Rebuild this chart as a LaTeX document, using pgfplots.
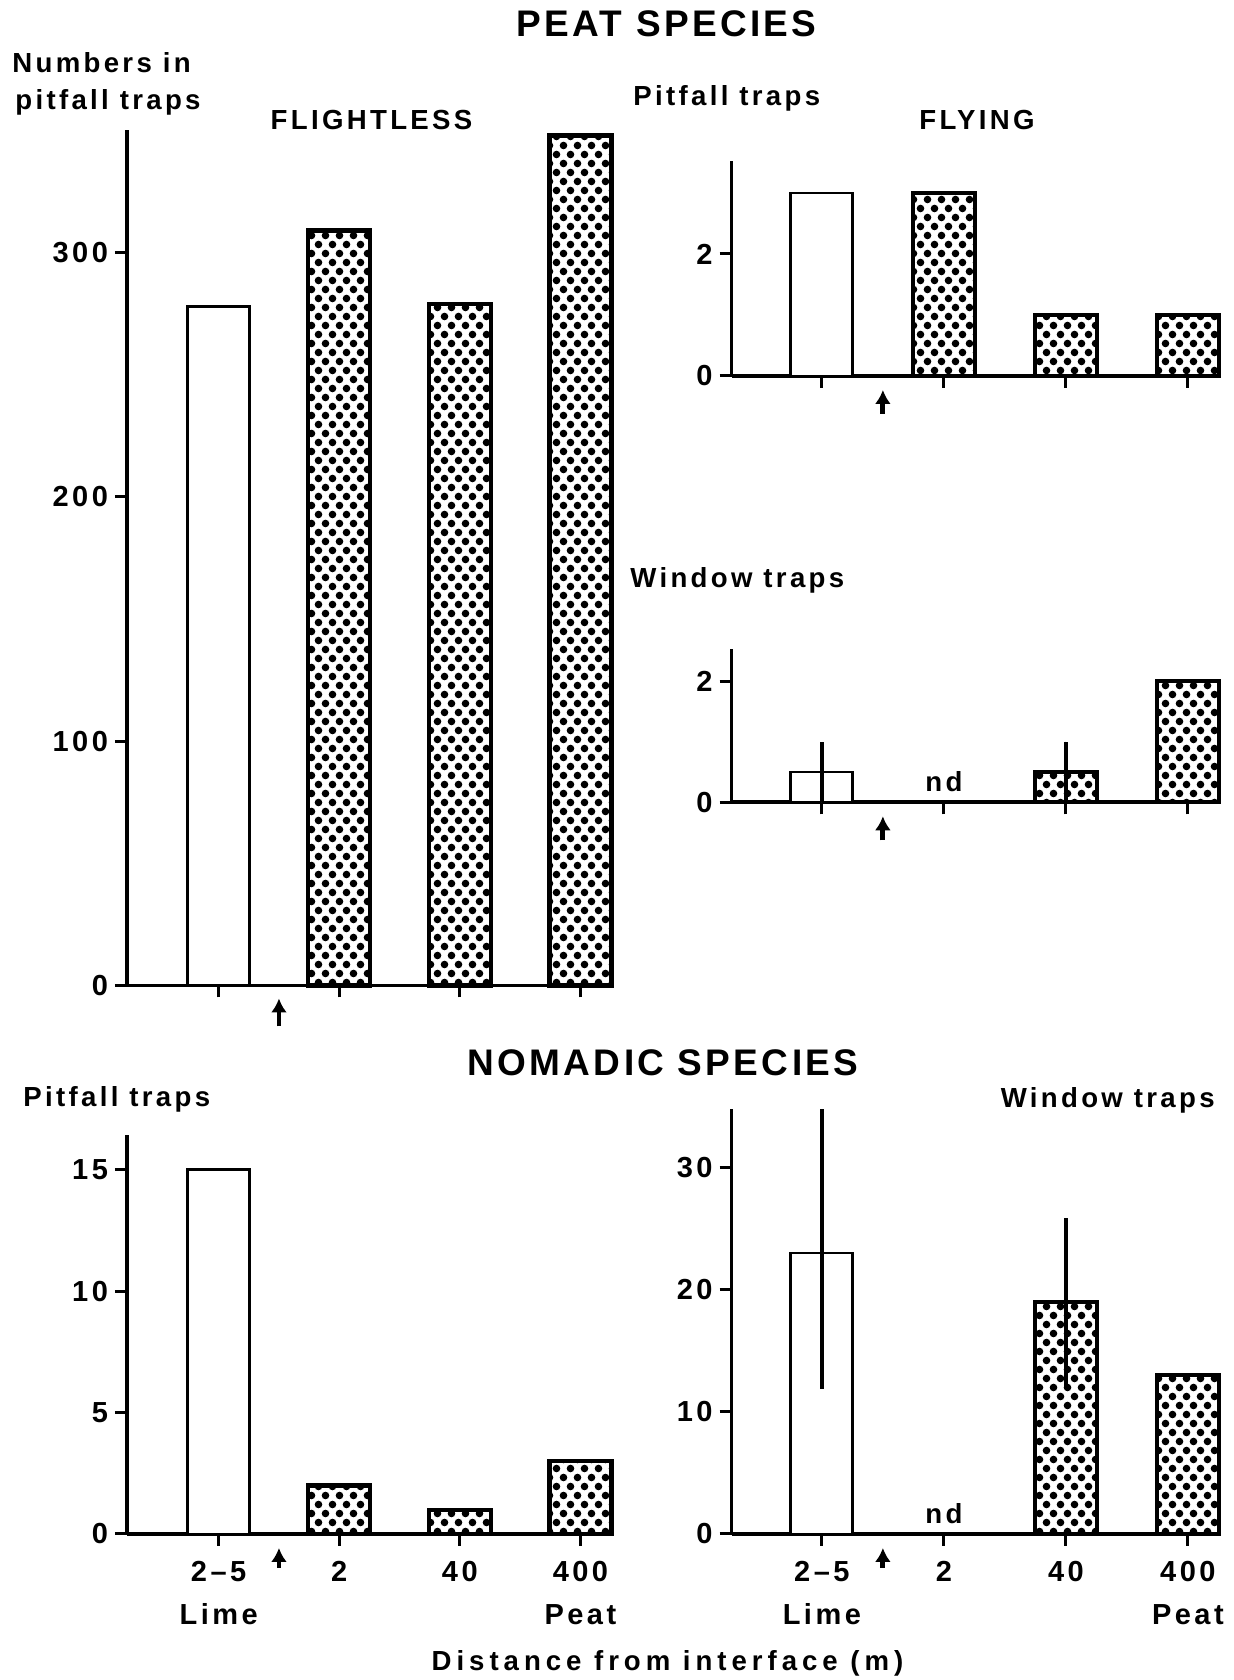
\documentclass[border=0pt]{standalone}
\usepackage{fontspec}
\setmainfont{Liberation Sans}[LetterSpace=12]
\usepackage{pgfplots}
\pgfplotsset{compat=1.18}
\usetikzlibrary{patterns,arrows.meta}

% halftone dots of the peat bars
\pgfdeclarepatternformonly{halftone}{\pgfqpoint{-1pt}{-1pt}}{\pgfqpoint{8pt}{10pt}}{\pgfqpoint{7pt}{9pt}}{%
  \pgfpathcircle{\pgfqpoint{1.75pt}{2.25pt}}{1.9pt}%
  \pgfpathcircle{\pgfqpoint{5.25pt}{6.75pt}}{1.9pt}%
  \pgfusepath{fill}}

\newcommand\lab{\fontsize{13.8}{16}\selectfont\bfseries}
\newcommand\ttl{\fontsize{18.5}{21}\selectfont\bfseries\addfontfeatures{LetterSpace=9}}

\tikzset{arr/.style={line width=2.4pt, -{Latex[length=7pt,width=8pt]}}}

\pgfplotsset{
  panel/.style={
    scale only axis, anchor=south west, clip=false,
    axis lines=left, axis line style={-, line width=1.8pt},
    tick align=outside, major tick length=6pt,
    tick style={line width=1.5pt, black},
    xtick={1,2,3,4}, ymin=0,
    /pgf/number format/assume math mode=true,
    yticklabel style={font=\fontsize{14.5}{16}\selectfont\bfseries\addfontfeatures{LetterSpace=12}},
    x tick label style={font=\fontsize{14.5}{21.5}\selectfont\bfseries\addfontfeatures{LetterSpace=12},
      align=center, yshift=-4pt},
  },
  leftpanel/.style={panel, width=243pt, xmin=0.24, xmax=4.27},
  rightpanel/.style={panel, width=244pt, xmin=0.26, xmax=4.26},
  open bar/.style={ybar, bar shift=0pt, bar width=31pt, draw=black, fill=white, line width=1.4pt},
  dot bar/.style={ybar, bar shift=0pt, bar width=31pt, draw=black, line width=2.2pt, pattern=halftone},
  errs/.style={error bars/.cd, y dir=both, y explicit, error mark=none,
    error bar style={line width=1.8pt}},
}

\begin{document}
\begin{tikzpicture}
\useasboundingbox (0pt,0pt) rectangle (616.5pt,840pt);

% ---- peat species, flightless, pitfall traps
\begin{axis}[leftpanel, at={(63.5pt,347.25pt)}, height=427.5pt,
  ymax=350, ytick={0,100,200,300}, xticklabel=\empty]
\addplot[open bar] coordinates {(1,278)};
\addplot[dot bar] coordinates {(2,309) (3,279) (4,348)};
\draw[arr] ([yshift=-20.5pt]axis cs:1.5,0) -- ([yshift=-6.5pt]axis cs:1.5,0);
\end{axis}

% ---- peat species, flying, pitfall traps
\begin{axis}[rightpanel, at={(365.8pt,652pt)}, height=107.7pt,
  ymax=3.53, ytick={0,2}, xticklabel=\empty]
\addplot[open bar] coordinates {(1,3)};
\addplot[dot bar] coordinates {(2,3) (3,1) (4,1)};
\draw[arr] ([yshift=-19pt]axis cs:1.5,0) -- ([yshift=-7pt]axis cs:1.5,0);
\end{axis}

% ---- peat species, flying, window traps
\begin{axis}[rightpanel, at={(365.8pt,438.85pt)}, height=76.6pt,
  ymax=2.53, ytick={0,2}, xticklabel=\empty]
\addplot[open bar, errs] coordinates {(1,0.5) +- (0,0.5)};
\addplot[dot bar, errs] coordinates {(3,0.5) +- (0,0.5)};
\addplot[dot bar] coordinates {(4,2)};
\node[anchor=south, font=\lab, yshift=1.5pt] at (axis cs:2,0) {nd};
\draw[arr] ([yshift=-19pt]axis cs:1.5,0) -- ([yshift=-7pt]axis cs:1.5,0);
\end{axis}

% ---- nomadic species, pitfall traps
\begin{axis}[leftpanel, at={(63.5pt,73pt)}, height=199.3pt,
  ymax=16.41, ytick={0,5,10,15},
  xticklabels={{2--5\\Lime},2,40,{400\\Peat}}]
\addplot[open bar] coordinates {(1,15)};
\addplot[dot bar] coordinates {(2,2) (3,1) (4,3)};
\draw[arr] ([yshift=-17pt]axis cs:1.5,0) -- ([yshift=-7pt]axis cs:1.5,0);
\end{axis}

% ---- nomadic species, window traps
\begin{axis}[rightpanel, at={(365.8pt,73pt)}, height=212.7pt,
  ymax=34.83, ytick={0,10,20,30},
  xticklabels={{2--5\\Lime},2,40,{400\\Peat}}]
\addplot[open bar, errs] coordinates {(1,23) += (0,11.8) -= (0,11.1)};
\addplot[dot bar, errs] coordinates {(3,19) +- (0,6.9)};
\addplot[dot bar] coordinates {(4,13)};
\node[anchor=south, font=\lab, yshift=1.5pt] at (axis cs:2,0) {nd};
\draw[arr] ([yshift=-17pt]axis cs:1.5,0) -- ([yshift=-7pt]axis cs:1.5,0);
\end{axis}

% ---- titles and labels
\node[anchor=base, font=\ttl] at (333.25pt,821.5pt) {PEAT SPECIES};
\node[anchor=base west, font=\lab, inner sep=0pt] at (6pt,803.5pt) {Numbers in};
\node[anchor=base west, font=\lab, inner sep=0pt] at (7.5pt,785pt) {pitfall traps};
\node[anchor=base, font=\lab] at (185.75pt,775pt) {FLIGHTLESS};
\node[anchor=base west, font=\lab, inner sep=0pt] at (316.5pt,787pt) {Pitfall traps};
\node[anchor=base, font=\lab] at (488.5pt,775pt) {FLYING};
\node[anchor=base west, font=\lab, inner sep=0pt] at (315pt,546pt) {Window traps};
\node[anchor=base, font=\ttl] at (331.5pt,302pt) {NOMADIC SPECIES};
\node[anchor=base west, font=\lab, inner sep=0pt] at (11.5pt,286.5pt) {Pitfall traps};
\node[anchor=base east, font=\lab, inner sep=0pt] at (607.5pt,286pt) {Window traps};
\node[anchor=base, font=\lab\addfontfeatures{LetterSpace=18}] at (333.75pt,5pt) {Distance from interface (m)};
\end{tikzpicture}
\end{document}
